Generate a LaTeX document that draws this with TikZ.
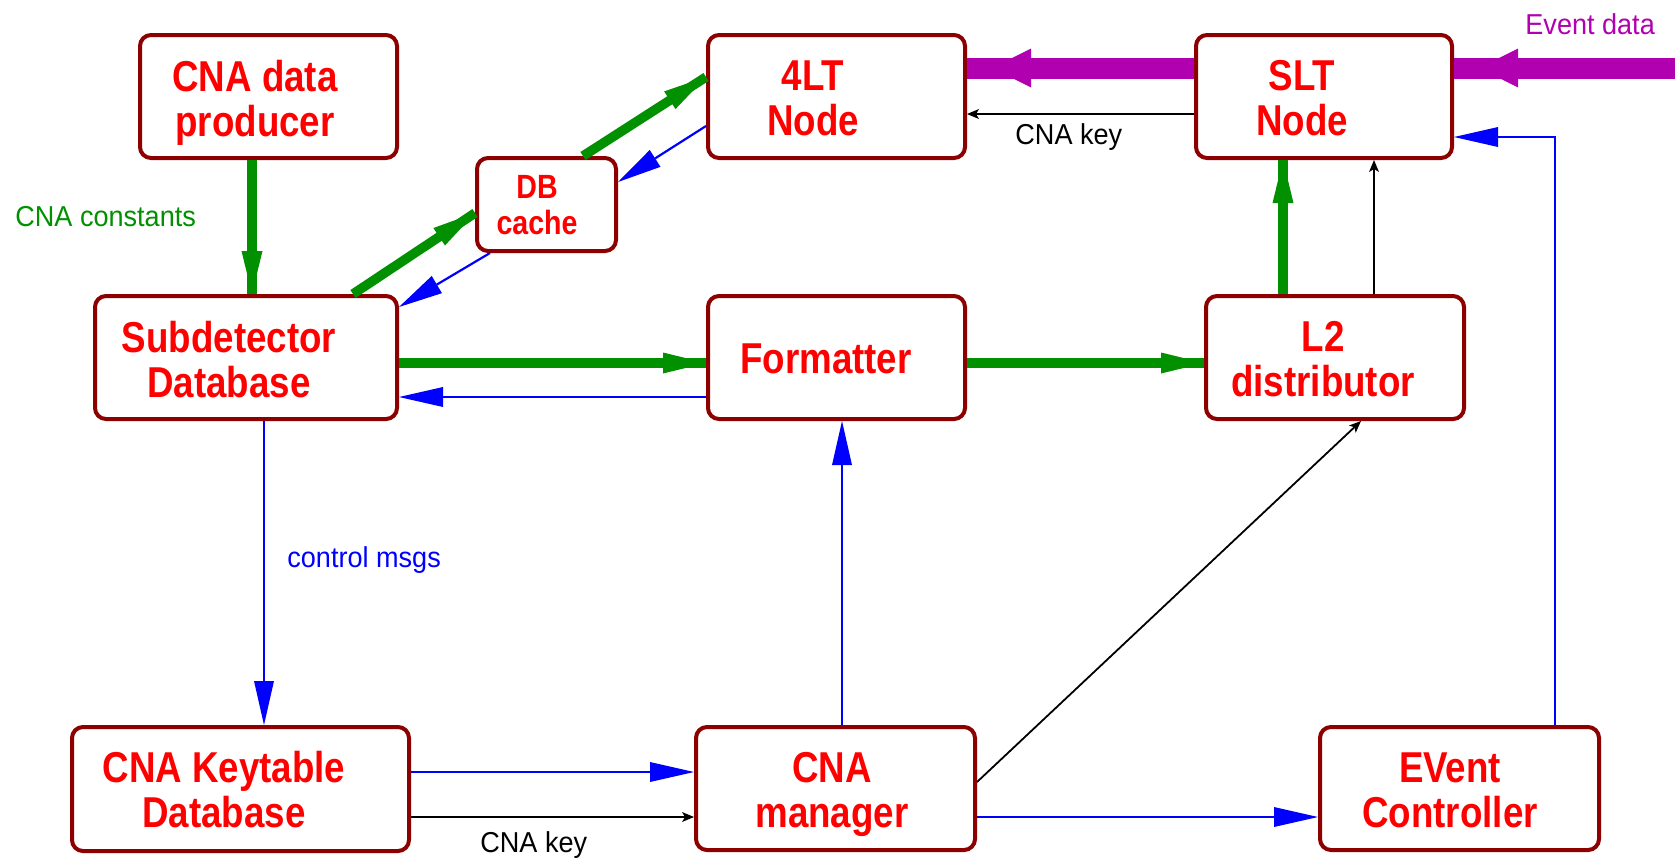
\documentclass[tikz,border=0pt]{standalone}
\usepackage{fontspec}
\newfontfamily\boxfont{Liberation Sans}[FakeStretch=0.85]
\newfontfamily\lblfont{Liberation Sans}[FakeStretch=0.94]
\usetikzlibrary{arrows.meta,calc,decorations.markings}
\definecolor{boxred}{RGB}{140,0,0}
\definecolor{flowgreen}{RGB}{0,144,0}
\definecolor{evmag}{RGB}{176,0,176}

\begin{document}
\begin{tikzpicture}[x=0.5pt,y=-0.5pt,
  box/.style={draw=boxred, line width=2pt, rounded corners=5.5pt, fill=white, inner sep=0pt},
  boxtext/.style={text=red, font=\boxfont\bfseries\fontsize{21.6}{22.5}\selectfont, align=center, anchor=north, inner sep=0pt},
  smalltext/.style={text=red, font=\boxfont\bfseries\fontsize{16.8}{18}\selectfont, align=center, anchor=north, inner sep=0pt},
  lbl/.style={font=\lblfont\fontsize{14.4}{16}\selectfont, anchor=base west, inner sep=0pt},
  garrow/.style={color=flowgreen, line width=4.75pt,
    postaction={draw, color=flowgreen, line width=0.3pt, -{Triangle[length=21.5pt,width=10.5pt,line width=0pt]}}},
  barrow/.style={color=blue, line width=1.1pt, -{Triangle[length=22pt,width=10pt,line width=0pt]}},
  karrow/.style={color=black, line width=0.9pt, -{Stealth[length=6pt,width=5pt,inset=1.5pt,line width=0pt]}},
  marrow/.style={color=evmag, line width=10.5pt, postaction={decorate},
    decoration={markings, mark=at position -12.5pt with {\arrow{Triangle[length=19.5pt,width=19.5pt,line width=0pt]}}}}
]
\useasboundingbox (0,0) rectangle (1675,858);

% boxes
\node[box, minimum width=128.5pt, minimum height=61.5pt] (prod) at (268.5,96.5) {};
\node[box, minimum width=151pt,   minimum height=61.5pt] (sub)  at (246,357.5) {};
\node[box, minimum width=69.5pt,  minimum height=46.5pt] (dbc)  at (546.5,204.5) {};
\node[box, minimum width=128.5pt, minimum height=61.5pt] (flt)  at (836.5,96.5) {};
\node[box, minimum width=128pt,   minimum height=61.5pt] (slt)  at (1324,96.5) {};
\node[box, minimum width=128.5pt, minimum height=61.5pt] (fmt)  at (836.5,357.5) {};
\node[box, minimum width=129pt,   minimum height=61.5pt] (l2)   at (1335,357.5) {};
\node[box, minimum width=168.5pt, minimum height=62pt]   (key)  at (240.5,789) {};
\node[box, minimum width=139.5pt, minimum height=61.5pt] (mgr)  at (835.5,788.5) {};
\node[box, minimum width=139.5pt, minimum height=61.5pt] (evc)  at (1459.5,788.5) {};

% box texts
\node[boxtext] (prod-t) at (255,60)  {CNA data\\producer};
\node[boxtext] (sub-t)  at (229,321) {Subdetector\\Database};
\node[smalltext] (dbc-t) at (537,175) {DB\\cache};
\node[boxtext] (flt-t)  at (813,60)  {4LT\\Node};
\node[boxtext] (slt-t)  at (1302,60) {SLT\\Node};
\node[boxtext] (fmt-t)  at (826,343) {Formatter};
\node[boxtext] (l2-t)   at (1323,321) {L2\\distributor};
\node[boxtext] (key-t)  at (224,751) {CNA Keytable\\Database};
\node[boxtext] (mgr-t)  at (832,752) {CNA\\manager};
\node[boxtext] (evc-t)  at (1450,752) {EVent\\Controller};

% event data stream
\coordinate (evin) at (1675,68);
\draw[marrow] (evin) -- ($(slt.east)+(0,-28.5)$);
\draw[marrow] ($(slt.west)+(0,-28.5)$) -- ($(flt.east)+(0,-28.5)$);

% constants flow
\draw[garrow] ($(prod.south)+(-16.5,0)$) -- ($(sub.north)+(6,0)$);
\draw[garrow] ($(sub.east)+(0,5.5)$) -- ($(fmt.west)+(0,5.5)$);
\draw[garrow] ($(fmt.east)+(0,5.5)$) -- ($(l2.west)+(0,5.5)$);
\draw[garrow] ($(l2.north)+(-52,0)$) -- ($(slt.south)+(-41,0)$);
\draw[garrow] ($(sub.north)+(107,0)$) -- ($(dbc.west)+(0,8.5)$);
\draw[garrow] ($(dbc.north)+(36.5,0)$) -- ($(flt.west)+(0,-19.5)$);

% keys
\draw[karrow] ($(slt.west)+(0,17.5)$) -- ($(flt.east)+(0,17.5)$);
\draw[karrow] ($(l2.north)+(39,0)$) -- ($(slt.south)+(50,0)$);
\draw[karrow] ($(key.east)+(0,28)$) -- ($(mgr.west)+(0,28.5)$);
\draw[karrow] ($(mgr.east)+(0,-6.5)$) -- ($(l2.south)+(26,0)$);

% control messages
\draw[barrow] ($(flt.west)+(0,29.5)$) -- ($(dbc.east)+(0,-22.5)$);
\draw[barrow] ($(dbc.south)+(-56.5,0)$) -- ($(sub.east)+(0,-50.5)$);
\draw[barrow] ($(fmt.west)+(0,39.5)$) -- ($(sub.east)+(0,39.5)$);
\draw[barrow] ($(sub.south)+(18,0)$) -- ($(key.north)+(23.5,0)$);
\draw[barrow] ($(key.east)+(0,-17)$) -- ($(mgr.west)+(0,-16.5)$);
\draw[barrow] ($(mgr.north)+(6.5,0)$) -- ($(fmt.south)+(5.5,0)$);
\draw[barrow] ($(mgr.east)+(0,28.5)$) -- ($(evc.west)+(0,28.5)$);
\draw[barrow] ($(evc.north)+(95.5,0)$) |- ($(slt.east)+(0,40.5)$);

% labels
\node[lbl, text=flowgreen] (l-const) at (15,226)   {CNA constants};
\node[lbl, text=black]     (l-key1)  at (1015,144) {CNA key};
\node[lbl, text=black]     (l-key2)  at (480,852)  {CNA key};
\node[lbl, text=blue]      (l-ctrl)  at (287,567)  {control msgs};
\node[lbl, text=evmag]     (l-event) at (1525,34)  {Event data};
\end{tikzpicture}
\end{document}
